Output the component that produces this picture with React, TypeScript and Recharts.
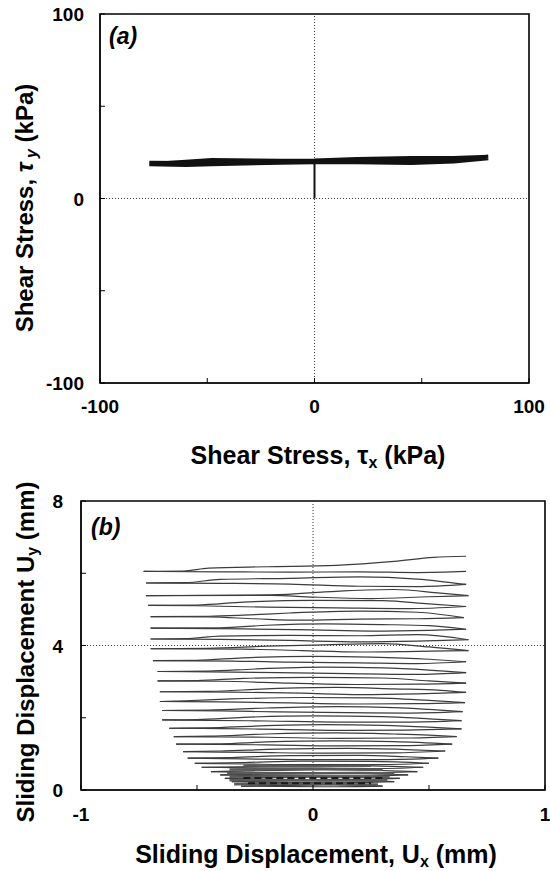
import React from 'react';
import { LineChart, Line, XAxis, YAxis, ReferenceLine, ReferenceArea } from 'recharts';

const FONT = '"Liberation Sans", Arial, sans-serif';

// ---- panel (a): shear stress path ----
const stressTicks = [-100, -50, 0, 50, 100];
const loadingX = [0, 0];
const loadingY = [0, 19.6];
const tauX = [0, 20, 45, 65, 81, 65, 45, 20, 0, -16, -48, -60, -77, -60, -48, -16, 0, 20, 45, 65, 81, 65, 45, 20, 0, -16, -48, -60, -77];
const tauY = [19.6, 20.6, 20.8, 21, 21.8, 20, 19.2, 19.6, 19.6, 19.4, 18.6, 18.2, 18.6, 19.9, 20.8, 20.5, 20.6, 21.4, 22, 22, 22.6, 21.1, 20.9, 20.5, 20.1, 19.9, 19.6, 19.3, 19.4];

// ---- panel (b): sliding displacement sweeps (each branch runs left to right) ----
const dispTicksX = [-1, -0.5, 0, 0.5, 1];
const dispTicksY = [0, 2, 4, 6, 8];
const sweeps: number[][][] = [
  [[-0.73, 6.05], [-0.56, 6.06], [-0.45, 6.14], [-0.2, 6.18], [0.1, 6.22], [0.35, 6.33], [0.52, 6.44], [0.66, 6.47]],
  [[-0.73, 6.05], [-0.4, 6.04], [-0.1, 6.03], [0.2, 6.04], [0.45, 6.02], [0.66, 6.05]],
  [[-0.72, 5.73], [-0.55, 5.74], [-0.4, 5.83], [-0.1, 5.86], [0.2, 5.9], [0.45, 5.84], [0.66, 5.69]],
  [[-0.72, 5.73], [-0.4, 5.72], [-0.1, 5.7], [0.2, 5.64], [0.45, 5.63], [0.66, 5.69]],
  [[-0.72, 5.38], [-0.4, 5.39], [-0.18, 5.4], [0.1, 5.5], [0.35, 5.55], [0.55, 5.45], [0.67, 5.38]],
  [[-0.72, 5.38], [-0.18, 5.39], [0.0, 5.34], [0.25, 5.3], [0.5, 5.35], [0.67, 5.38]],
  [[-0.71, 5.11], [-0.5, 5.12], [-0.3, 5.2], [0.0, 5.25], [0.3, 5.24], [0.5, 5.15], [0.66, 5.08]],
  [[-0.71, 5.11], [-0.5, 5.1], [-0.2, 5.06], [0.1, 5.04], [0.4, 5.02], [0.66, 5.08]],
  [[-0.7, 4.8], [-0.45, 4.81], [-0.3, 4.84], [-0.1, 4.9], [0.2, 4.95], [0.45, 4.92], [0.65, 4.77]],
  [[-0.7, 4.8], [-0.45, 4.79], [-0.25, 4.74], [-0.05, 4.7], [0.2, 4.73], [0.45, 4.74], [0.65, 4.77]],
  [[-0.7, 4.48], [-0.4, 4.49], [-0.2, 4.56], [0.05, 4.6], [0.3, 4.58], [0.5, 4.55], [0.66, 4.45]],
  [[-0.7, 4.48], [-0.3, 4.46], [0.0, 4.43], [0.25, 4.4], [0.5, 4.42], [0.66, 4.45]],
  [[-0.7, 4.18], [-0.55, 4.19], [-0.4, 4.26], [-0.1, 4.28], [0.2, 4.27], [0.45, 4.3], [0.67, 4.16]],
  [[-0.7, 4.18], [-0.4, 4.17], [-0.1, 4.14], [0.2, 4.1], [0.45, 4.12], [0.67, 4.16]],
  [[-0.7, 3.91], [-0.45, 3.92], [-0.2, 3.98], [0.05, 4.02], [0.3, 4.05], [0.5, 3.96], [0.67, 3.86]],
  [[-0.7, 3.91], [-0.3, 3.9], [-0.05, 3.86], [0.2, 3.82], [0.45, 3.84], [0.67, 3.86]],
  [[-0.69, 3.58], [-0.5, 3.59], [-0.3, 3.66], [0.0, 3.7], [0.25, 3.68], [0.5, 3.62], [0.66, 3.55]],
  [[-0.69, 3.58], [-0.35, 3.57], [-0.1, 3.54], [0.2, 3.52], [0.45, 3.5], [0.66, 3.55]],
  [[-0.67, 3.28], [-0.45, 3.29], [-0.25, 3.35], [0.05, 3.4], [0.3, 3.38], [0.5, 3.32], [0.66, 3.25]],
  [[-0.67, 3.28], [-0.45, 3.27], [-0.15, 3.25], [0.15, 3.22], [0.45, 3.2], [0.66, 3.25]],
  [[-0.67, 3.02], [-0.5, 3.03], [-0.3, 3.09], [0.0, 3.12], [0.3, 3.1], [0.5, 3.02], [0.66, 2.96]],
  [[-0.67, 3.02], [-0.4, 3.01], [-0.1, 2.96], [0.2, 2.92], [0.45, 2.93], [0.66, 2.96]],
  [[-0.66, 2.72], [-0.45, 2.73], [-0.2, 2.8], [0.1, 2.84], [0.35, 2.8], [0.55, 2.76], [0.66, 2.7]],
  [[-0.66, 2.72], [-0.35, 2.71], [-0.05, 2.68], [0.2, 2.64], [0.45, 2.66], [0.66, 2.7]],
  [[-0.66, 2.45], [-0.55, 2.47], [-0.35, 2.52], [-0.05, 2.56], [0.25, 2.55], [0.5, 2.48], [0.655, 2.42]],
  [[-0.66, 2.45], [-0.4, 2.44], [-0.1, 2.41], [0.2, 2.38], [0.45, 2.39], [0.655, 2.42]],
  [[-0.65, 2.2], [-0.45, 2.21], [-0.2, 2.27], [0.1, 2.31], [0.35, 2.28], [0.5, 2.23], [0.645, 2.17]],
  [[-0.65, 2.2], [-0.4, 2.19], [-0.15, 2.16], [0.15, 2.14], [0.4, 2.13], [0.645, 2.17]],
  [[-0.65, 1.94], [-0.5, 1.95], [-0.3, 2.01], [0.0, 2.05], [0.3, 2.03], [0.5, 1.97], [0.64, 1.92]],
  [[-0.65, 1.94], [-0.45, 1.93], [-0.2, 1.91], [0.1, 1.88], [0.4, 1.88], [0.64, 1.92]],
  [[-0.62, 1.71], [-0.45, 1.72], [-0.25, 1.77], [0.05, 1.81], [0.3, 1.79], [0.5, 1.74], [0.64, 1.69]],
  [[-0.62, 1.71], [-0.4, 1.7], [-0.15, 1.68], [0.15, 1.65], [0.4, 1.66], [0.64, 1.69]],
  [[-0.6, 1.48], [-0.45, 1.49], [-0.2, 1.55], [0.1, 1.58], [0.35, 1.55], [0.5, 1.52], [0.62, 1.48]],
  [[-0.6, 1.48], [-0.45, 1.47], [-0.2, 1.46], [0.1, 1.43], [0.4, 1.44], [0.62, 1.48]],
  [[-0.59, 1.27], [-0.4, 1.28], [-0.2, 1.33], [0.1, 1.36], [0.35, 1.34], [0.6, 1.27]],
  [[-0.59, 1.27], [-0.2, 1.25], [0.1, 1.22], [0.4, 1.23], [0.6, 1.27]],
  [[-0.56, 1.06], [-0.4, 1.08], [-0.15, 1.13], [0.15, 1.15], [0.4, 1.12], [0.57, 1.08]],
  [[-0.56, 1.06], [-0.25, 1.04], [0.05, 1.02], [0.35, 1.03], [0.57, 1.08]],
  [[-0.54, 0.88], [-0.35, 0.9], [-0.1, 0.95], [0.2, 0.96], [0.4, 0.92], [0.54, 0.88]],
  [[-0.54, 0.88], [-0.3, 0.86], [0.0, 0.84], [0.3, 0.84], [0.54, 0.88]],
  [[-0.51, 0.74], [-0.3, 0.76], [-0.05, 0.8], [0.25, 0.79], [0.5, 0.74]],
  [[-0.51, 0.74], [-0.3, 0.72], [-0.05, 0.7], [0.25, 0.7], [0.5, 0.74]],
  [[-0.48, 0.63], [-0.25, 0.65], [0.0, 0.68], [0.25, 0.67], [0.475, 0.63]],
  [[-0.48, 0.63], [-0.25, 0.61], [0.0, 0.6], [0.25, 0.59], [0.475, 0.63]],
  [[-0.44, 0.51], [-0.2, 0.54], [0.05, 0.56], [0.3, 0.54], [0.45, 0.51]],
  [[-0.44, 0.51], [-0.25, 0.49], [-0.05, 0.48], [0.2, 0.48], [0.45, 0.51]],
  [[-0.4, 0.42], [-0.2, 0.44], [0.05, 0.46], [0.25, 0.45], [0.41, 0.42]],
  [[-0.4, 0.42], [-0.25, 0.4], [-0.05, 0.39], [0.2, 0.39], [0.41, 0.42]],
  [[-0.38, 0.32], [-0.15, 0.35], [0.1, 0.36], [0.375, 0.32]],
  [[-0.38, 0.32], [-0.1, 0.29], [0.15, 0.29], [0.375, 0.32]],
  [[-0.35, 0.23], [-0.1, 0.25], [0.15, 0.26], [0.35, 0.23]],
  [[-0.35, 0.23], [-0.15, 0.21], [0.1, 0.2], [0.35, 0.23]],
  [[-0.31, 0.11], [-0.1, 0.13], [0.1, 0.14], [0.3, 0.11]],
  [[-0.31, 0.11], [-0.15, 0.1], [0.05, 0.09], [0.3, 0.11]],
];
// dense overlapping cycles near the bottom
const denseSweeps: number[][][] = [
  [[-0.34, 0.16], [-0.1, 0.17], [0.15, 0.16], [0.28, 0.15]],
  [[-0.36, 0.27], [-0.1, 0.28], [0.1, 0.26], [0.32, 0.27]],
  [[-0.36, 0.37], [-0.1, 0.38], [0.15, 0.36], [0.33, 0.37]],
  [[-0.37, 0.47], [-0.1, 0.46], [0.2, 0.47], [0.35, 0.46]],
  [[-0.36, 0.57], [0.0, 0.58], [0.3, 0.56]],
  [[-0.3, 0.68], [0.0, 0.66], [0.25, 0.67]],
];
const dashedSweeps: number[][][] = [
  [[-0.3, 0.33], [0.3, 0.33]],
  [[-0.28, 0.19], [0.25, 0.19]],
];

const toPts = (xs: number[], ys: number[]) => xs.map((x, i) => ({ x, y: ys[i] }));
const pairPts = (p: number[][]) => p.map(([x, y]) => ({ x, y }));

const tickStyle = { fill: '#000', fontSize: 19, fontWeight: 'bold', fontFamily: FONT };
const titleStyle = { fontSize: 25, fontWeight: 'bold', fontFamily: FONT, fill: '#000' } as const;
const yTitleStyle = { fontSize: 24, fontWeight: 'bold', fontFamily: FONT, fill: '#000' } as const;

function Tick({ x, y, payload, show, anchor, vAnchorDy }: any) {
  if (!show(payload.value)) return null;
  return (
    <text x={x} y={y} textAnchor={anchor} dy={vAnchorDy} {...tickStyle}>
      {payload.value}
    </text>
  );
}

export default function App() {
  return (
    <div style={{ position: 'absolute', left: 0, top: 0, width: 550, height: 871, background: '#fff' }}>
      <div style={{ position: 'absolute', left: 0, top: 0 }}>
        <LineChart width={550} height={480} margin={{ top: 14, right: 21, bottom: 67, left: 0 }}>
          <XAxis
            type="number"
            dataKey="x"
            domain={[-100, 100]}
            ticks={stressTicks}
            allowDataOverflow
            height={30}
            tickSize={-5}
            tickMargin={21}
            stroke="#000"
            tick={(p: any) => <Tick {...p} show={(v: number) => v % 100 === 0} anchor="middle" vAnchorDy={14} />}
            label={() => (
              <text x={318} y={464} textAnchor="middle" {...titleStyle}>
                Shear Stress, τ<tspan fontSize={16} dy={4}>x</tspan>
                <tspan dy={-4}> (kPa)</tspan>
              </text>
            )}
          />
          <YAxis
            type="number"
            dataKey="y"
            domain={[-100, 100]}
            ticks={stressTicks}
            allowDataOverflow
            width={100}
            tickSize={-5}
            tickMargin={21}
            stroke="#000"
            tick={(p: any) => <Tick {...p} show={(v: number) => v % 100 === 0} anchor="end" vAnchorDy={7} />}
            label={() => (
              <g>
                <text transform="translate(33,208) rotate(-90)" textAnchor="middle" {...yTitleStyle}>
                  Shear Stress, <tspan fontStyle="italic">τ</tspan>
                  <tspan fontSize={16} fontStyle="italic" dy={4}> y</tspan>
                  <tspan dy={-4}>  (kPa)</tspan>
                </text>
                <text x={109} y={44} fontSize={23} fontWeight="bold" fontStyle="italic" fontFamily={FONT}>
                  (a)
                </text>
              </g>
            )}
          />
          <ReferenceArea x1={-100} x2={100} y1={-100} y2={100} fill="none" stroke="#000" strokeWidth={1.6} ifOverflow="visible" />
          <ReferenceLine x={0} stroke="#444" strokeDasharray="1 2" />
          <ReferenceLine y={0} stroke="#444" strokeDasharray="1 2" />
          <Line data={toPts(loadingX, loadingY)} dataKey="y" stroke="#111" strokeWidth={2} dot={false} activeDot={false} isAnimationActive={false} type="linear" />
          <Line data={toPts(tauX, tauY)} dataKey="y" stroke="#111" strokeWidth={4} dot={false} activeDot={false} isAnimationActive={false} type="linear" />
        </LineChart>
      </div>
      <div style={{ position: 'absolute', left: 0, top: 480 }}>
        <LineChart width={550} height={391} margin={{ top: 21, right: 5, bottom: 51, left: 0 }}>
          <XAxis
            type="number"
            dataKey="x"
            domain={[-1, 1]}
            ticks={dispTicksX}
            allowDataOverflow
            height={30}
            tickSize={-5}
            tickMargin={22}
            stroke="#000"
            tick={(p: any) => <Tick {...p} show={(v: number) => Number.isInteger(v)} anchor="middle" vAnchorDy={14} />}
            label={() => (
              <text x={316} y={383} textAnchor="middle" {...titleStyle}>
                Sliding Displacement, U<tspan fontSize={16} dy={4}>x</tspan>
                <tspan dy={-4}> (mm)</tspan>
              </text>
            )}
          />
          <YAxis
            type="number"
            dataKey="y"
            domain={[0, 8]}
            ticks={dispTicksY}
            allowDataOverflow
            width={81}
            tickSize={-5}
            tickMargin={23}
            stroke="#000"
            tick={(p: any) => <Tick {...p} show={(v: number) => v % 4 === 0} anchor="end" vAnchorDy={7} />}
            label={() => (
              <g>
                <text transform="translate(34,172) rotate(-90)" textAnchor="middle" {...yTitleStyle}>
                  Sliding Displacement U<tspan fontSize={16} dy={4}>y</tspan>
                  <tspan dy={-4}> (mm)</tspan>
                </text>
                <text x={91} y={55} fontSize={23} fontWeight="bold" fontStyle="italic" fontFamily={FONT}>
                  (b)
                </text>
              </g>
            )}
          />
          <ReferenceArea x1={-1} x2={1} y1={0} y2={8} fill="none" stroke="#000" strokeWidth={1.6} ifOverflow="visible" />
          <ReferenceLine x={0} stroke="#333" strokeDasharray="1 2" />
          <ReferenceLine y={4} stroke="#444" strokeDasharray="1 2" />
          {sweeps.map((s, i) => (
            <Line key={'s' + i} data={pairPts(s)} dataKey="y" stroke="#3c3c3c" strokeWidth={1.2} dot={false} activeDot={false} isAnimationActive={false} type="monotone" />
          ))}
          {denseSweeps.map((s, i) => (
            <Line key={'d' + i} data={pairPts(s)} dataKey="y" stroke="#5a5a5a" strokeWidth={2.5} dot={false} activeDot={false} isAnimationActive={false} type="monotone" />
          ))}
          {dashedSweeps.map((s, i) => (
            <Line key={'k' + i} data={pairPts(s)} dataKey="y" stroke="#1a1a1a" strokeWidth={2} strokeDasharray="7 4" dot={false} activeDot={false} isAnimationActive={false} type="linear" />
          ))}
        </LineChart>
      </div>
    </div>
  );
}
